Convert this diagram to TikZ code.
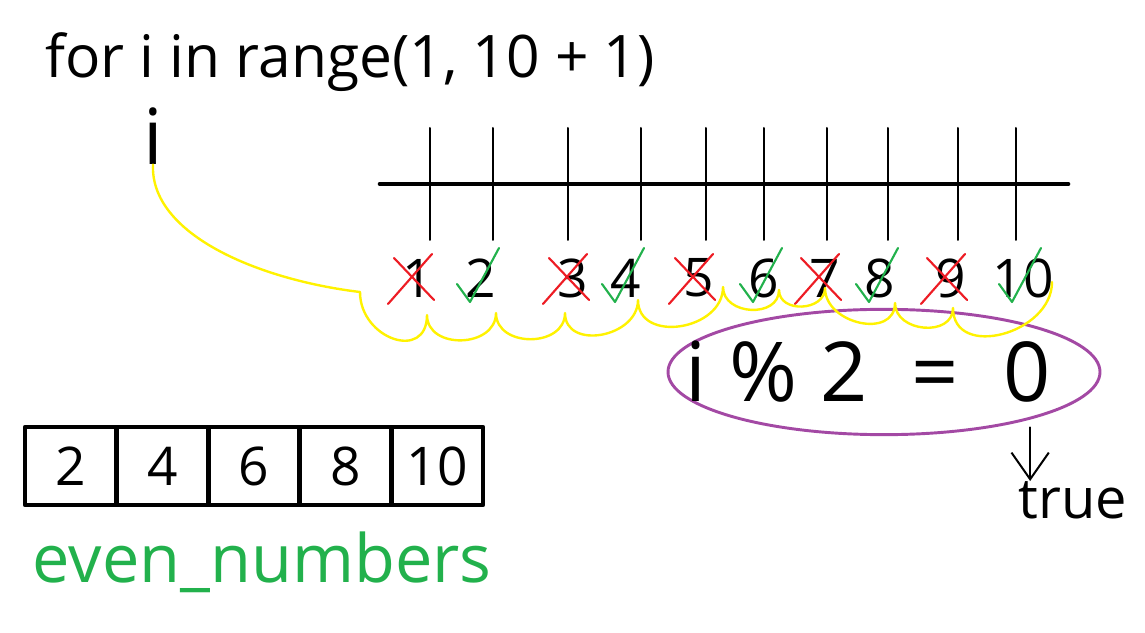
\documentclass[tikz,border=0pt]{standalone}
\usepackage{fontspec}
\setmainfont{Open Sans}
\usetikzlibrary{arrows.meta,shapes.geometric}
\definecolor{pred}{HTML}{ED1C24}
\definecolor{pgreen}{HTML}{22B14C}
\definecolor{pyellow}{HTML}{FFF200}
\definecolor{ppurple}{HTML}{A349A4}
\tikzstyle{txt} = [inner sep=0pt, font=\fontsize{44}{50}\selectfont]
\tikzstyle{num} = [inner sep=0pt, font=\fontsize{40}{48}\selectfont]
\tikzstyle{big} = [inner sep=0pt, font=\fontsize{62}{70}\selectfont]
\tikzstyle{cell} = [rectangle, draw, line width=3.5pt, minimum width=68.7pt,
    minimum height=58.5pt, inner sep=0pt, font=\fontsize{40}{48}\selectfont]
\tikzstyle{cond} = [ellipse, draw=ppurple, line width=2.2pt, minimum width=324pt,
    minimum height=94pt, inner sep=0pt]
\tikzstyle{hl} = [draw=pyellow, line width=1.8pt]
\tikzstyle{cross} = [draw=pred, line width=1.6pt]
\tikzstyle{check} = [draw=pgreen, line width=1.6pt]
\tikzstyle{tick} = [line width=1.5pt]

\begin{document}
\begin{tikzpicture}[x=0.75pt,y=0.75pt,line cap=round,line join=round,
                    >={Straight Barb[length=20pt,width=28pt,line width=1.5pt]}]
  \useasboundingbox (0,0) rectangle (1145,632);

  \node[txt] (loop) at (350,570) {for i in range(1, 10 + 1)};
  \node[txt,font=\fontsize{58}{60}\selectfont] (i) at (153,496) {i};

  % number line
  \draw[line width=3.5pt] (380,448) -- (1068,448);
  \foreach \x/\t [count=\k] in {418/430,481/493,573/568,626/641,699/706,
                                764/764,825/827,880/888,951/958,1023/1016} {
    \draw[tick] (\t,504) -- (\t,392);
    \node[num] (n\k) at (\x,354) {\k};
  }

  \foreach \k in {1,3,5,7,9}
    \draw[cross] ([shift={(-30,-26)}]n\k.center) -- ([shift={(14,24)}]n\k.center)
                 ([shift={(-24,20)}]n\k.center) -- ([shift={(16,-22)}]n\k.center);
  \foreach \k in {2,4,6,8,10}
    \draw[check] ([shift={(-24,-6)}]n\k.center) -- ([shift={(-11,-24)}]n\k.center)
                 -- ([shift={(18,30)}]n\k.center);

  % condition
  \node[cond] (cond) at (884,260) {};
  \node[big]  (mod) at (868,260) {i\;\%\;2\; =\; 0};
  \node[txt,font=\fontsize{42}{48}\selectfont] (true) at (1073,132) {true};
  \draw[->,line width=1.5pt,shorten <=6pt] (cond.-18) -- (cond.-18 |- true.north);

  % yellow bracket
  \coordinate (u0) at (360,340);
  \foreach \x/\y [count=\k] in {427/317,496/319,565/319,638/332,723/345,
                                779/342,825/344,895/329,953/324}
    \coordinate (u\k) at (\x,\y);
  \coordinate (u10) at (1052,350);
  \draw[hl] (i.south) .. controls (150,397) and (260,352) .. (u0);
  \draw[hl] (u0) to[out=-90,in=-90,looseness=1.7] (u1)
    \foreach \k in {2,...,10} { to[out=-90,in=-90,looseness=1.3] (u\k) };

  % result list
  \foreach \v [count=\k] in {2,4,6,8,10}
    \node[cell] (c\k) at ({25+91.6*(\k-0.5)},166) {\v};
  \node[txt,text=pgreen,font=\fontsize{50}{56}\selectfont] (name) at (262,70) {even\_numbers};
\end{tikzpicture}
\end{document}
